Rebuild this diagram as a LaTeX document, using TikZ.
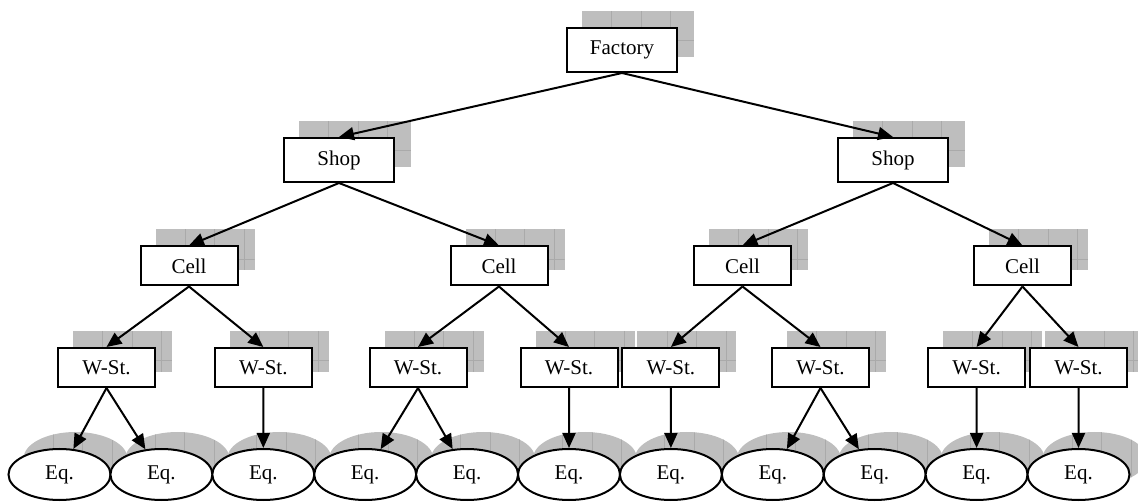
\documentclass[tikz,border=0pt]{standalone}
\usepackage{fontspec}
\setmainfont{Liberation Serif}
\usetikzlibrary{arrows.meta,shapes.geometric,calc}
\pgfdeclarelayer{background}
\pgfsetlayers{background,main}
\definecolor{shadefill}{HTML}{BEBEBE}
\definecolor{seamline}{HTML}{AAAAAA}

\begin{document}
\begin{tikzpicture}[x=1pt,y=-1pt,
  font=\fontsize{21}{25}\selectfont,
  bigbox/.style={draw,line width=2pt,fill=white,minimum width=110pt,
    minimum height=44pt,inner sep=0pt},
  smallbox/.style={bigbox,minimum width=97pt,minimum height=39pt},
  equip/.style={ellipse,draw,line width=2pt,fill=white,minimum width=102pt,
    minimum height=51pt,inner sep=0pt},
  link/.style={line width=2pt,-{Triangle[length=15pt,width=13pt]}},
  dropshade/.style={fill=shadefill},
  seam/.style={draw=seamline,line width=0.8pt}]

\useasboundingbox (0,0) rectangle (1138,502);

% hierarchy levels
\node[bigbox] (fac) at (622,50) {Factory};
\node[bigbox] (shopA) at (339,160) {Shop};
\node[bigbox] (shopB) at (893,160) {Shop};

\node[smallbox] (cellA) at (189,266) {Cell};
\node[smallbox] (cellB) at (499,266) {Cell};
\node[smallbox] (cellC) at (742.5,266) {Cell};
\node[smallbox] (cellD) at (1022.5,266) {Cell};

\node[smallbox] (wsA) at (106.5,367.5) {W-St.};
\node[smallbox] (wsB) at (263.3,367.5) {W-St.};
\node[smallbox] (wsC) at (418,367.5) {W-St.};
\node[smallbox] (wsD) at (569,367.5) {W-St.};
\node[smallbox] (wsE) at (670.9,367.5) {W-St.};
\node[smallbox] (wsF) at (820.5,367.5) {W-St.};
\node[smallbox] (wsG) at (976.6,367.5) {W-St.};
\node[smallbox] (wsH) at (1078.5,367.5) {W-St.};

\foreach \i in {1,...,11}
  \node[equip] (eq\i) at ({59.5+101.9*(\i-1)},474.5) {Eq.};

% drop shadows with a tiled texture
\begin{pgfonlayer}{background}
  \foreach \n in {fac,shopA,shopB,cellA,cellB,cellC,cellD,
                  wsA,wsB,wsC,wsD,wsE,wsF,wsG,wsH} {
    \path ([shift={(16,-16)}]\n.north west) coordinate (sA)
          ([shift={(16,-16)}]\n.south east) coordinate (sB);
    \fill[dropshade] (sA) rectangle (sB);
    \begin{scope}
      \clip (sA) rectangle (sB);
      \foreach \k in {1,2,3}
        \draw[seam] ($(sA)+(29.5*\k,0)$) -- ($(sA|-sB)+(29.5*\k,0)$);
      \draw[seam] ($(sA)+(0,29.5)$) -- ($(sB|-sA)+(0,29.5)$);
    \end{scope}
  }
  \foreach \i in {1,...,11} {
    \path ([shift={(16,-16)}]eq\i.center) coordinate (sC);
    \fill[dropshade] (sC) ellipse [x radius=52, y radius=26.5];
    \begin{scope}
      \clip (sC) ellipse [x radius=52, y radius=26.5];
      \foreach \k in {1,2,3}
        \draw[seam] ($(sC)+(-52+29.5*\k,-30)$) -- ($(sC)+(-52+29.5*\k,30)$);
    \end{scope}
  }
\end{pgfonlayer}

% connectors
\draw[link] (fac.south) -- (shopA.north);
\draw[link] (fac.south) -- (shopB.north);

\draw[link] (shopA.south) -- (cellA.north);
\draw[link] (shopA.south) -- (cellB.north);
\draw[link] (shopB.south) -- (cellC.north);
\draw[link] (shopB.south) -- (cellD.north);

\draw[link] (cellA.south) -- (wsA.north);
\draw[link] (cellA.south) -- (wsB.north);
\draw[link] (cellB.south) -- (wsC.north);
\draw[link] (cellB.south) -- (wsD.north);
\draw[link] (cellC.south) -- (wsE.north);
\draw[link] (cellC.south) -- (wsF.north);
\draw[link] (cellD.south) -- (wsG.north);
\draw[link] (cellD.south) -- (wsH.north);

\draw[link] (wsA.south) -- (eq1);
\draw[link] (wsA.south) -- (eq2);
\draw[link] (wsB.south) -- (eq3);
\draw[link] (wsC.south) -- (eq4);
\draw[link] (wsC.south) -- (eq5);
\draw[link] (wsD.south) -- (eq6);
\draw[link] (wsE.south) -- (eq7);
\draw[link] (wsF.south) -- (eq8);
\draw[link] (wsF.south) -- (eq9);
\draw[link] (wsG.south) -- (eq10);
\draw[link] (wsH.south) -- (eq11);
\end{tikzpicture}
\end{document}
